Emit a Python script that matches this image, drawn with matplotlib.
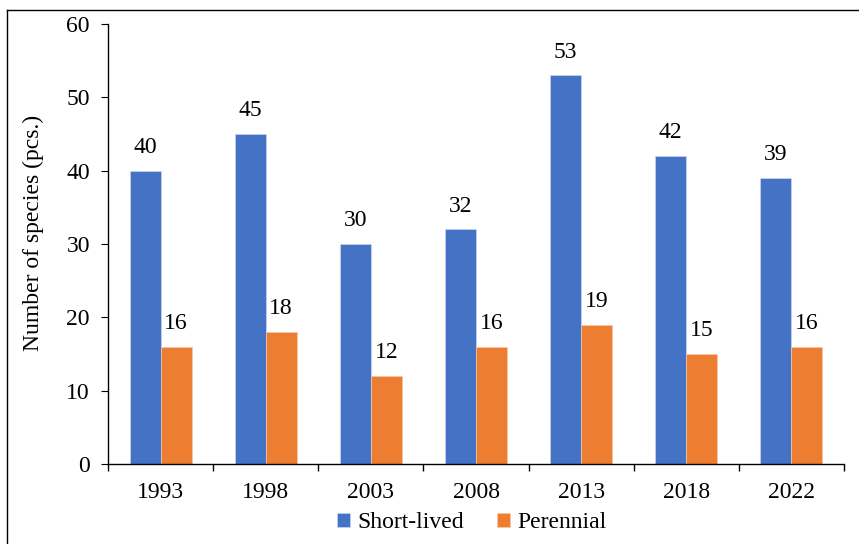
import matplotlib
matplotlib.use("Agg")
import matplotlib.pyplot as plt
import numpy as np
from matplotlib.lines import Line2D

years = ["1993", "1998", "2003", "2008", "2013", "2018", "2022"]
short_lived = [40, 45, 30, 32, 53, 42, 39]
perennial = [16, 18, 12, 16, 19, 15, 16]

plt.rcParams['font.family'] = ['Liberation Serif', 'DejaVu Serif']
FS = 17

W, H = 859, 544
fig = plt.figure(figsize=(W/100, H/100), dpi=100)
ax = fig.add_axes([108/W, 1 - 464/H, (844-108)/W, (464-24)/H])

x = np.arange(len(years))
bw = 0.295
blue = '#4472C4'
orange = '#ED7D31'
b1 = ax.bar(x - bw/2, short_lived, bw, color=blue, label='Short-lived',
            edgecolor='#c9d6ee', linewidth=0.5)
b2 = ax.bar(x + bw/2, perennial, bw, color=orange, label='Perennial',
            edgecolor='#f6c9a9', linewidth=0.5)

for bars, vals in ((b1, short_lived), (b2, perennial)):
    for rect, v in zip(bars, vals):
        ax.annotate(str(v), (rect.get_x() + rect.get_width()/2, v), xytext=(0, 9),
                    textcoords='offset points', ha='center', va='bottom', fontsize=FS)

ax.set_xlim(-0.5, len(years) - 0.5)
ax.set_ylim(0, 60)
ax.set_yticks(range(0, 61, 10))
ax.set_xticks(x)
ax.set_xticklabels(years)
ax.set_xticks(np.arange(-0.5, len(years), 1), minor=True)
ax.tick_params(axis='x', which='major', length=0, labelsize=FS, pad=13)
ax.tick_params(axis='x', which='minor', length=5, direction='out', width=1)
ax.tick_params(axis='y', length=5, direction='out', labelsize=FS, pad=8)
for s in ['top', 'right']:
    ax.spines[s].set_visible(False)
ax.spines['left'].set_linewidth(1)
ax.spines['bottom'].set_linewidth(1)
ax.set_ylabel('Number of species (pcs.)', fontsize=FS)
ax.yaxis.set_label_coords((44 - 108) / 736, (464 - 233) / 440)

fig.legend(handles=[b1, b2], labels=['Short-lived', 'Perennial'], loc='center',
           bbox_to_anchor=(472/W, 1 - 523/H), ncol=2, frameon=False, fontsize=FS,
           handlelength=0.55, handleheight=0.55, handletextpad=0.3, columnspacing=1.4)

# figure frame
x0 = 7/W
y0 = 1 - 10/H
fig.add_artist(Line2D([x0, x0], [-0.1, y0], transform=fig.transFigure, color='black', lw=1))
fig.add_artist(Line2D([x0, 1.1], [y0, y0], transform=fig.transFigure, color='black', lw=1))

fig.savefig('out.png', dpi=100)
